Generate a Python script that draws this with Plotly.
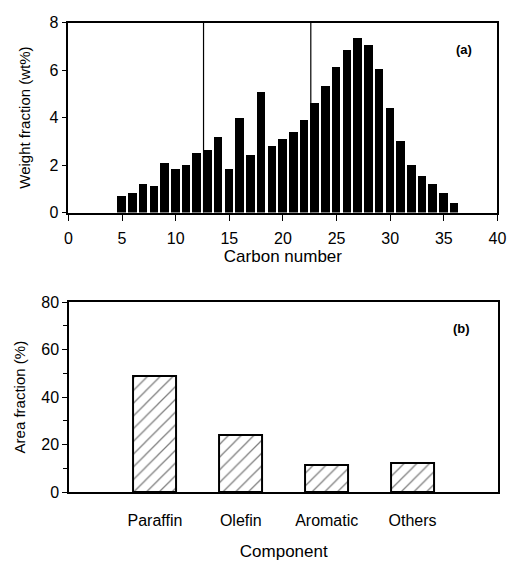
import plotly.graph_objects as go

carbon_number = list(range(5, 37))
weight_fraction = [0.72, 0.83, 1.24, 1.14, 2.12, 1.84, 2.03, 2.54, 2.65, 3.21,
                   1.84, 4.01, 2.45, 5.10, 2.84, 3.13, 3.41, 3.92, 4.63, 5.33,
                   6.15, 6.86, 7.36, 7.06, 6.07, 4.44, 3.05, 2.01, 1.54, 1.22,
                   0.86, 0.44]
cut_lines = [12.6, 22.6]

components = ["Paraffin", "Olefin", "Aromatic", "Others"]
area_fraction = [49.0, 24.2, 11.2, 12.1]

FONT = "Liberation Sans, Arial, sans-serif"

fig = go.Figure()
fig.add_trace(go.Bar(x=carbon_number, y=weight_fraction, width=0.8,
                     marker=dict(color="black", line=dict(width=0)),
                     xaxis="x", yaxis="y", showlegend=False))
for xv in cut_lines:
    fig.add_trace(go.Scatter(x=[xv, xv], y=[0, 8], mode="lines",
                             line=dict(color="black", width=1.2),
                             xaxis="x", yaxis="y", showlegend=False))

fig.add_trace(go.Bar(x=list(range(len(components))), y=area_fraction, width=0.5,
                     marker=dict(color="white",
                                 line=dict(color="black", width=2),
                                 pattern=dict(shape="/", fgcolor="black",
                                              bgcolor="white", size=9,
                                              solidity=0.14)),
                     xaxis="x2", yaxis="y2", showlegend=False))

axis_common = dict(showgrid=False, zeroline=False, showline=True,
                   linecolor="black", linewidth=1.6, mirror=True,
                   tickcolor="black", tickwidth=1.3,
                   tickfont=dict(family=FONT, size=16, color="black"))

fig.update_layout(
    width=525, height=561,
    margin=dict(l=0, r=0, t=0, b=0),
    paper_bgcolor="white", plot_bgcolor="white",
    font=dict(family=FONT, color="black"),
    bargap=0,
    xaxis=dict(domain=[66/525, 506/525], anchor="y", range=[0, 40],
               tickvals=list(range(0, 41, 5)), ticks="outside", ticklen=7,
               ticklabelstandoff=3,
               title=dict(text="Carbon number", font=dict(size=17), standoff=4),
               **axis_common),
    yaxis=dict(domain=[1-211/561, 1-15/561], anchor="x", range=[0, 8],
               tickvals=[0, 2, 4, 6, 8], ticks="outside", ticklen=5,
               title=dict(text="Weight fraction (wt%)", font=dict(size=15), standoff=15),
               **axis_common),
    xaxis2=dict(domain=[66.7/525, 507/525], anchor="y2", range=[-1, 4],
                tickvals=list(range(len(components))), ticktext=components,
                ticks="", ticklabelstandoff=13,
                title=dict(text="Component", font=dict(size=17), standoff=17),
                **axis_common),
    yaxis2=dict(domain=[1-499.3/561, 1-303.3/561], anchor="x2", range=[0, 80],
                tickvals=[0, 20, 40, 60, 80], ticks="outside", ticklen=5,
                minor=dict(tickvals=[10, 30, 50, 70], ticks="outside",
                           ticklen=4, tickcolor="black"),
                title=dict(text="Area fraction (%)", font=dict(size=15), standoff=12),
                **axis_common),
    annotations=[
        dict(text="<b>(a)</b>", x=482/525, y=1-33/561, xref="paper", yref="paper",
             showarrow=False, font=dict(family=FONT, size=13, color="black")),
        dict(text="<b>(b)</b>", x=480/525, y=1-330/561, xref="paper", yref="paper",
             showarrow=False, font=dict(family=FONT, size=13, color="black")),
    ],
)

fig.write_html("out.html")
